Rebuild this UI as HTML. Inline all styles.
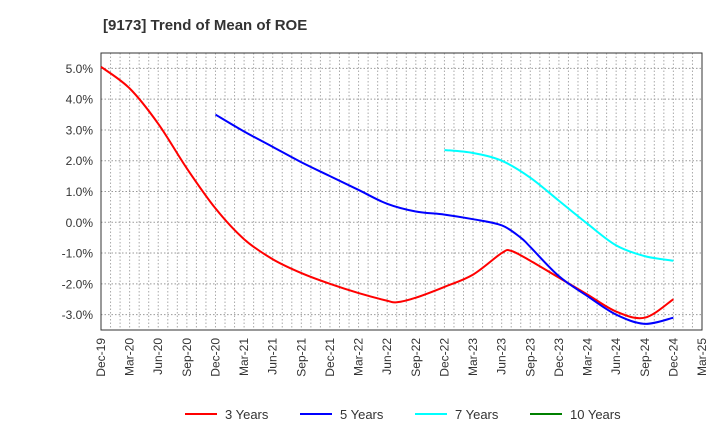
<!DOCTYPE html>
<html><head><meta charset="utf-8"><style>
body{margin:0;background:#fff;font-family:"Liberation Sans",sans-serif;}
svg text{font-family:"Liberation Sans",sans-serif;fill:#333;}
</style></head><body>
<svg id="c" width="720" height="440">
<text x="103" y="30" font-size="15" font-weight="bold">[9173]  Trend of Mean of ROE</text>
</svg>
<script>
const xLabels=["Dec-19","Mar-20","Jun-20","Sep-20","Dec-20","Mar-21","Jun-21","Sep-21","Dec-21","Mar-22","Jun-22","Sep-22","Dec-22","Mar-23","Jun-23","Sep-23","Dec-23","Mar-24","Jun-24","Sep-24","Dec-24","Mar-25"];
const yTicks=[5,4,3,2,1,0,-1,-2,-3];
const s3m=[0,3,6,9,12,15,18,21,24,27,30,31,33,36,39,42,43,45,48,51,54,57,60];
const s3v=[5.05,4.35,3.2,1.75,0.45,-0.55,-1.2,-1.65,-2.0,-2.3,-2.55,-2.6,-2.45,-2.1,-1.7,-1.0,-0.93,-1.25,-1.8,-2.35,-2.9,-3.1,-2.5];
const s5m=[12,15,18,21,24,27,30,33,36,39,42,44,45,48,51,54,57,60];
const s5v=[3.5,2.95,2.45,1.95,1.5,1.05,0.6,0.35,0.25,0.1,-0.1,-0.5,-0.8,-1.75,-2.4,-3.0,-3.3,-3.1];
const s7m=[36,39,42,45,48,51,54,57,60];
const s7v=[2.35,2.25,2.0,1.45,0.7,-0.05,-0.75,-1.1,-1.25];
const L=101,R=702,T=53,B=330,yMin=-3.5,yMax=5.5,nM=63;
const X=m=>L+(R-L)*m/nM, Y=v=>B-(B-T)*(v-yMin)/(yMax-yMin);
const svg=document.getElementById('c');const NS='http://www.w3.org/2000/svg';
function mk(t,a){const e=document.createElementNS(NS,t);for(const k in a)e.setAttribute(k,a[k]);svg.appendChild(e);return e;}
for(let m=1;m<nM;m++){const g=mk('line',{x1:X(m),x2:X(m),y1:T,y2:B,stroke:'#aaa','stroke-dasharray':'1.5,2','stroke-width':1});

}
yTicks.forEach(v=>{const g=mk('line',{x1:L,x2:R,y1:Y(v),y2:Y(v),stroke:'#999','stroke-dasharray':'1.5,2','stroke-width':1});


const t=mk('text',{x:L-8,y:Y(v)+4.5,'text-anchor':'end','font-size':12});t.textContent=v.toFixed(1)+'%';

});
xLabels.forEach((s,i)=>{const x=X(i*3);const t=mk('text',{transform:`translate(${x+4},${B+8}) rotate(-90)`,'text-anchor':'end','font-size':12});t.textContent=s;

});
const fr=mk('rect',{x:L,y:T,width:R-L,height:B-T,fill:'none',stroke:'#333','stroke-width':1});


function path(ms,vs){const p=ms.map((m,i)=>[X(m),Y(vs[i])]);let d=`M${p[0][0]},${p[0][1]}`;
for(let i=0;i<p.length-1;i++){const p0=p[i-1]||p[i],p1=p[i],p2=p[i+1],p3=p[i+2]||p2;
d+=` C${p1[0]+(p2[0]-p0[0])/6},${p1[1]+(p2[1]-p0[1])/6} ${p2[0]-(p3[0]-p1[0])/6},${p2[1]-(p3[1]-p1[1])/6} ${p2[0]},${p2[1]}`;}return d;}
[[s3m,s3v,'#f00','series-3-years'],[s5m,s5v,'#00f','series-5-years'],[s7m,s7v,'#0ff','series-7-years']].forEach(([m,v,c,n])=>{
const e=mk('path',{d:path(m,v),fill:'none',stroke:c,'stroke-width':2});

});
[['3 Years','#f00',185],['5 Years','#00f',300],['7 Years','#0ff',415],['10 Years','#008000',530]].forEach(([s,c,x])=>{
const l=mk('line',{x1:x,x2:x+32,y1:414,y2:414,stroke:c,'stroke-width':2});


const t=mk('text',{x:x+40,y:419,'font-size':13});t.textContent=s;

});
</script>
</body></html>
